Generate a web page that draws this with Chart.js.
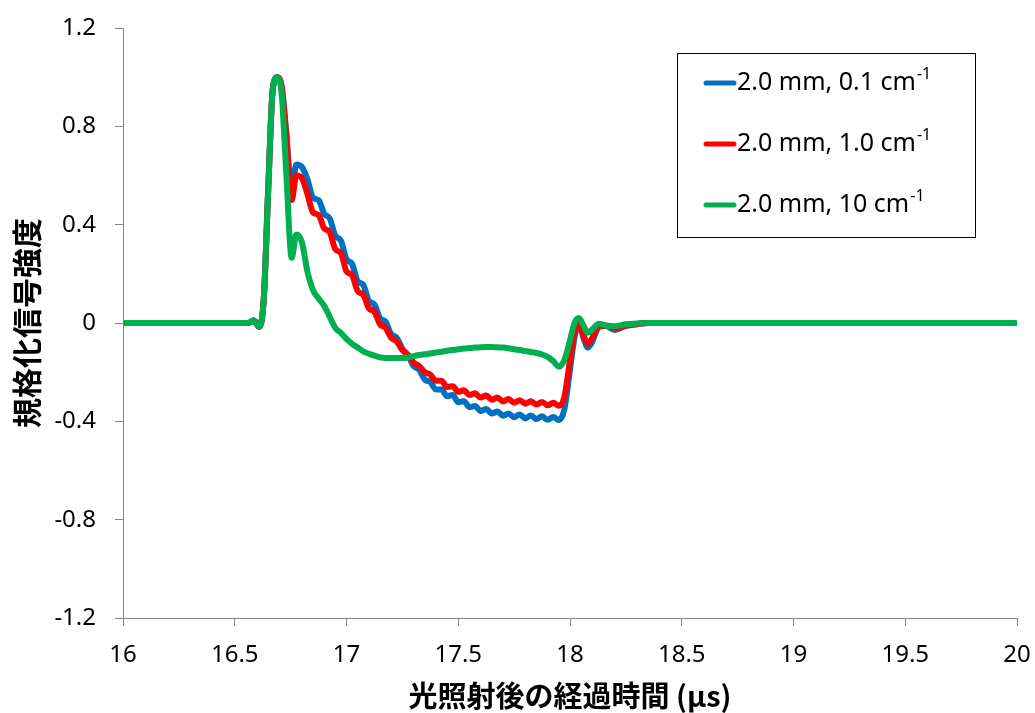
<!DOCTYPE html>
<html>
<head>
<meta charset="utf-8">
<script src="https://cdn.jsdelivr.net/npm/chart.js@4/dist/chart.umd.min.js"></script>
<style>
  html, body { margin: 0; padding: 0; background: #fff; }
  #wrap { width: 1035px; height: 713px; }
</style>
</head>
<body>
<div id="wrap"><canvas id="chart"></canvas></div>
<script>
// time after illumination (µs)
const times = [
  16, 16.5, 16.56, 16.585, 16.61, 16.63, 16.65, 16.67, 16.69, 16.71, 16.73, 16.755,
  16.775, 16.8, 16.825, 16.85, 16.875, 16.9, 16.925, 16.95, 16.975, 17,
  17.025, 17.05, 17.075, 17.1, 17.125, 17.15, 17.175, 17.2, 17.225, 17.25,
  17.275, 17.3, 17.325, 17.35, 17.375, 17.4, 17.425, 17.45, 17.475, 17.5,
  17.525, 17.55, 17.575, 17.6, 17.625, 17.65, 17.675, 17.7, 17.725, 17.75,
  17.775, 17.8, 17.825, 17.85, 17.875, 17.9, 17.925, 17.95,
  17.975, 18, 18.02, 18.04, 18.06, 18.08, 18.1, 18.13, 18.16, 18.2, 18.25, 18.3, 18.35, 18.5, 20
];

// 2.0 mm, 0.1 cm-1
const blueValues = [
  0, 0, 0, 0.01, -0.015, 0.1, 0.55, 0.95, 1.0, 0.96, 0.78, 0.53,
  0.645, 0.635, 0.585, 0.51, 0.5, 0.445, 0.425, 0.355, 0.335, 0.26,
  0.24, 0.17, 0.155, 0.09, 0.075, 0.02, 0.005, -0.045, -0.06, -0.105,
  -0.13, -0.175, -0.19, -0.23, -0.24, -0.27, -0.27, -0.298, -0.293, -0.322,
  -0.318, -0.342, -0.338, -0.358, -0.35, -0.368, -0.36, -0.377, -0.368, -0.383,
  -0.372, -0.388, -0.376, -0.391, -0.379, -0.394, -0.382, -0.395,
  -0.35, -0.19, -0.06, 0.0, -0.06, -0.1, -0.075, -0.015, -0.012, -0.028, -0.012, -0.005, 0, 0, 0
];

// 2.0 mm, 1.0 cm-1
const redValues = [
  0, 0, 0, 0.01, -0.015, 0.1, 0.55, 0.95, 1.0, 0.96, 0.77, 0.5,
  0.6, 0.59, 0.525, 0.45, 0.44, 0.385, 0.37, 0.3, 0.285, 0.21,
  0.195, 0.13, 0.115, 0.06, 0.045, -0.005, -0.02, -0.06, -0.075, -0.11,
  -0.13, -0.16, -0.175, -0.2, -0.21, -0.235, -0.235, -0.26, -0.257, -0.28,
  -0.274, -0.293, -0.286, -0.303, -0.295, -0.312, -0.303, -0.319, -0.309, -0.324,
  -0.314, -0.328, -0.318, -0.332, -0.321, -0.335, -0.324, -0.337,
  -0.3, -0.15, -0.04, 0.005, -0.05, -0.085, -0.06, -0.012, -0.01, -0.022, -0.01, -0.004, 0, 0, 0
];

// 2.0 mm, 10 cm-1
const greenValues = [
  0, 0, 0, 0.01, -0.015, 0.1, 0.55, 0.95, 1.0, 0.93, 0.62, 0.265,
  0.36, 0.33, 0.21, 0.135, 0.1, 0.07, 0.025, -0.02, -0.04, -0.065,
  -0.085, -0.1, -0.115, -0.125, -0.133, -0.14, -0.142, -0.142, -0.142, -0.142,
  -0.14, -0.135, -0.13, -0.127, -0.124, -0.12, -0.117, -0.113, -0.11, -0.107,
  -0.104, -0.102, -0.1, -0.099, -0.098, -0.098, -0.099, -0.1, -0.103, -0.107,
  -0.11, -0.114, -0.118, -0.122, -0.128, -0.138, -0.155, -0.178,
  -0.15, -0.07, 0.0, 0.02, -0.01, -0.04, -0.025, -0.003, -0.01, -0.013, -0.005, -0.002, 0, 0, 0
];

const seriesLabels = ['2.0 mm, 0.1 cm', '2.0 mm, 1.0 cm', '2.0 mm, 10 cm'];
const labelSup = '-1';
const seriesColors = ['#0070C0', '#FF0000', '#00B050'];

const xTickValues = [16, 16.5, 17, 17.5, 18, 18.5, 19, 19.5, 20];
const xTickLabels = ['16', '16.5', '17', '17.5', '18', '18.5', '19', '19.5', '20'];
const yTickValues = [-1.2, -0.8, -0.4, 0, 0.4, 0.8, 1.2];
const yTickLabels = ['-1.2', '-0.8', '-0.4', '0', '0.4', '0.8', '1.2'];

const tickFont = { family: 'Noto Sans', size: 24 };
const axisGray = '#868686';

function toPoints(vals) {
  return times.map((t, i) => ({ x: t, y: vals[i] }));
}

// legend box drawn inside the plot area, with superscripts
const boxLegend = {
  id: 'boxLegend',
  afterDatasetsDraw(chart) {
    const { ctx, chartArea } = chart;
    const left = chartArea.right - 340, top = chartArea.top + 25;
    const w = 298, h = 184;
    ctx.save();
    ctx.fillStyle = '#fff';
    ctx.fillRect(left, top, w, h);
    ctx.strokeStyle = '#000';
    ctx.lineWidth = 1;
    ctx.strokeRect(left + 0.5, top + 0.5, w, h);
    ctx.textBaseline = 'middle';
    seriesLabels.forEach((lab, i) => {
      const y = top + 30 + i * 61;
      ctx.strokeStyle = seriesColors[i];
      ctx.lineWidth = 5;
      ctx.lineCap = 'round';
      ctx.beginPath();
      ctx.moveTo(left + 29, y);
      ctx.lineTo(left + 57, y);
      ctx.stroke();
      ctx.fillStyle = '#000';
      ctx.font = '25px "Noto Sans"';
      ctx.fillText(lab, left + 60, y);
      const tw = ctx.measureText(lab).width;
      ctx.font = '16px "Noto Sans"';
      ctx.fillText(labelSup, left + 61 + tw, y - 9);
    });
    ctx.restore();
  }
};

const order = [2, 1, 0];
const ctx = document.getElementById('chart').getContext('2d');
new Chart(ctx, {
  type: 'line',
  data: {
    datasets: [blueValues, redValues, greenValues].map((vals, i) => ({
      label: seriesLabels[i] + labelSup,
      data: toPoints(vals),
      borderColor: seriesColors[i],
      backgroundColor: seriesColors[i],
      borderWidth: 6,
      pointRadius: 0,
      cubicInterpolationMode: 'monotone',
      borderJoinStyle: 'round',
      borderCapStyle: 'round',
      order: order[i]
    }))
  },
  options: {
    responsive: true,
    maintainAspectRatio: false,
    animation: false,
    layout: { padding: { top: 28, right: 18, left: 0, bottom: 0 } },
    plugins: {
      legend: { display: false },
      tooltip: { enabled: false }
    },
    scales: {
      x: {
        type: 'linear',
        min: 16,
        max: 20,
        afterBuildTicks: s => { s.ticks = xTickValues.map(v => ({ value: v })); },
        afterFit: s => { s.height = 95; s.paddingLeft = 0; s.paddingRight = 0; },
        ticks: {
          callback: (v, i) => xTickLabels[i],
          font: tickFont,
          color: '#000',
          padding: 15,
          maxRotation: 0
        },
        grid: { drawOnChartArea: false, drawTicks: true, tickLength: 8, color: axisGray },
        border: { display: true, color: axisGray, width: 1 },
        title: {
          display: true,
          text: '光照射後の経過時間 (μs)',
          color: '#000',
          font: { family: 'Noto Sans CJK JP', size: 29, weight: 'bold', lineHeight: 1.2 },
          padding: { top: 0, bottom: 0 }
        }
      },
      y: {
        min: -1.2,
        max: 1.2,
        afterBuildTicks: s => { s.ticks = yTickValues.map(v => ({ value: v })); },
        afterFit: s => { s.width = 123; s.paddingTop = 0; s.paddingBottom = 0; },
        ticks: {
          callback: (v, i) => yTickLabels[i],
          font: tickFont,
          color: '#000',
          padding: 19
        },
        grid: { drawOnChartArea: false, drawTicks: true, tickLength: 8, color: axisGray },
        border: { display: true, color: axisGray, width: 1 },
        title: {
          display: true,
          text: '規格化信号強度',
          color: '#000',
          font: { family: 'Noto Sans CJK JP', size: 30, weight: 'bold', lineHeight: 1.2 },
          padding: { top: 9, bottom: 0 }
        }
      }
    }
  },
  plugins: [boxLegend]
});
</script>
</body>
</html>
